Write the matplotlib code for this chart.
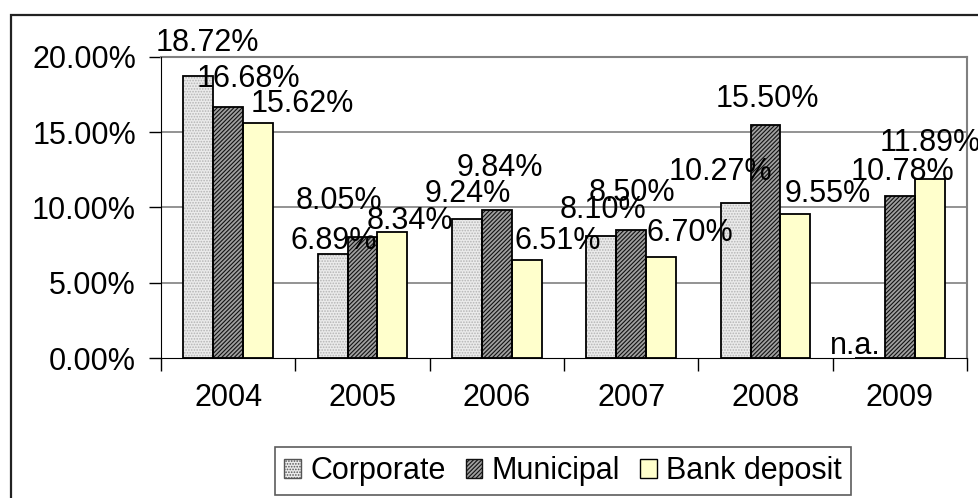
import matplotlib
matplotlib.use("Agg")
import matplotlib.pyplot as plt
from matplotlib.patches import Rectangle, Patch
import numpy as np

years = ["2004", "2005", "2006", "2007", "2008", "2009"]
corporate = [18.72, 6.89, 9.24, 8.10, 10.27, None]
municipal = [16.68, 8.05, 9.84, 8.50, 15.50, 10.78]
bank_deposit = [15.62, 8.34, 6.51, 6.70, 9.55, 11.89]
series_names = ["Corporate", "Municipal", "Bank deposit"]
y_ticks = [0, 5, 10, 15, 20]

# label nudges in pixels (dx, dy of text centre above bar top)
corp_nudge = [(9, 36), (1, 16), (1, 28), (2, 29), (-15, 34), (-14, 15)]
muni_nudge = [(20, 31), (-24, 39), (3, 45), (1, 40), (2, 29), (3, 27)]
bank_nudge = [(44, 22), (17, 14), (31, 22), (29, 27), (32, 23), (0, 39)]

plt.rcParams['font.family'] = ['Liberation Sans', 'DejaVu Sans']
plt.rcParams['hatch.linewidth'] = 0.8
FS = 22

W, H = 979, 498
fig = plt.figure(figsize=(W / 100, H / 100), dpi=100)
ax = fig.add_axes([161 / W, 1 - 358 / H, (967 - 161) / W, (358 - 57) / H])

x = np.arange(len(years))
bw = 0.2233

corp_vals = [v if v is not None else 0 for v in corporate]
# corporate: dotted fill
ax.bar(x - bw, corp_vals, bw, color='#ebebeb', edgecolor='#b4b4b4', hatch='......', linewidth=0, zorder=3)
ax.bar(x - bw, corp_vals, bw, fill=False, edgecolor='black', linewidth=1.3, zorder=4)
# municipal: dense diagonal
ax.bar(x, municipal, bw, color='#a0a0a0', edgecolor='#111111', hatch='////////', linewidth=0, zorder=3)
ax.bar(x, municipal, bw, fill=False, edgecolor='black', linewidth=1.3, zorder=4)
# bank deposit
ax.bar(x + bw, bank_deposit, bw, color='#ffffcc', edgecolor='black', linewidth=1.3, zorder=3)

def label(xpos, val, nudge, text):
    dx, dy = nudge
    ax.annotate(text, (xpos, val), xytext=(dx, dy - 11), textcoords='offset pixels',
                ha='center', va='baseline', fontsize=FS, zorder=6, annotation_clip=False)

for i in range(len(years)):
    if corporate[i] is None:
        label(x[i] - bw, 0, corp_nudge[i], "n.a.")
    else:
        label(x[i] - bw, corporate[i], corp_nudge[i], f"{corporate[i]:.2f}%")
    label(x[i], municipal[i], muni_nudge[i], f"{municipal[i]:.2f}%")
    label(x[i] + bw, bank_deposit[i], bank_nudge[i], f"{bank_deposit[i]:.2f}%")

ax.set_xlim(-0.5, len(years) - 0.5)
ax.set_ylim(0, 20)
ax.set_yticks(y_ticks)
ax.set_yticklabels([f"{t:.2f}%" for t in y_ticks], fontsize=FS)
ax.set_xticks(x)
ax.set_xticklabels(years, fontsize=FS)
ax.set_xticks(np.arange(-0.5, len(years), 1.0), minor=True)
ax.tick_params(axis='x', which='major', length=0, pad=18)
ax.tick_params(axis='x', which='minor', length=9, width=1, direction='out')
ax.tick_params(axis='y', which='major', length=9, width=1, direction='out', pad=9)

for yv in y_ticks[1:-1]:
    ax.axhline(yv, color='#808080', linewidth=1.2, zorder=1)

ax.spines['left'].set_color('black')
ax.spines['bottom'].set_color('black')
ax.spines['left'].set_zorder(5)
ax.spines['bottom'].set_zorder(5)
for s in ('top', 'right'):
    ax.spines[s].set_color('#808080')
    ax.spines[s].set_linewidth(1.5)

handles = [
    Patch(facecolor='#ebebeb', edgecolor='#555555', hatch='......'),
    Patch(facecolor='#a0a0a0', edgecolor='#111111', hatch='////////'),
    Patch(facecolor='#ffffcc', edgecolor='black'),
]
leg = fig.legend(handles, series_names, loc='center', bbox_to_anchor=(563 / W, 1 - 471 / H),
                 ncol=3, fontsize=FS, frameon=True, fancybox=False, handlelength=0.55,
                 handleheight=0.6, handletextpad=0.3, columnspacing=0.65, borderpad=0.3,
                 borderaxespad=0)
leg.get_frame().set_edgecolor('#333333')
leg.get_frame().set_linewidth(1.2)

# outer chart frame
fig.add_artist(Rectangle((11 / W, -0.2), 1.2, 1 - 15 / H + 0.2, transform=fig.transFigure,
                         fill=False, edgecolor='#222222', linewidth=1.6))

fig.savefig("out.png", dpi=100)
